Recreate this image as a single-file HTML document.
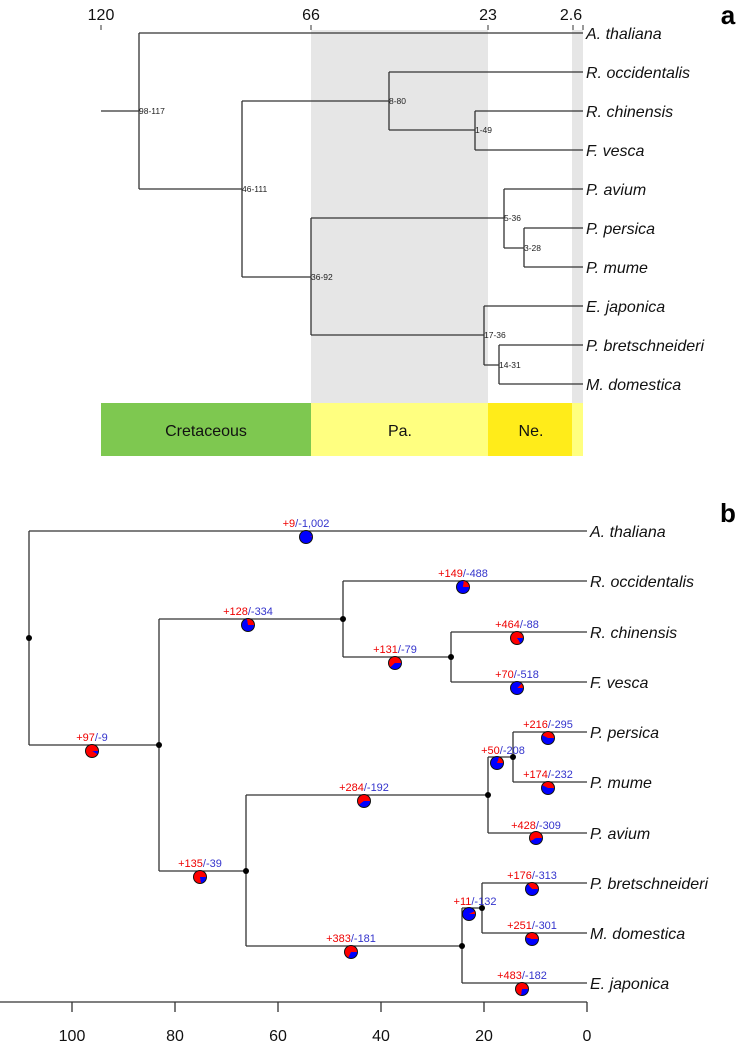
<!DOCTYPE html>
<html><head><meta charset="utf-8"><style>
body{margin:0;background:#fff;}
#w{position:relative;width:749px;height:1041px;overflow:hidden;font-family:"Liberation Sans",sans-serif;}
svg{position:absolute;left:0;top:0;}
.p{position:absolute;width:12px;height:12px;border:1px solid #111;border-radius:50%;}
</style></head><body><div id="w">
<svg width="749" height="1041" viewBox="0 0 749 1041">
<g font-family="Liberation Sans, sans-serif">
<!-- panel a -->
<rect x="311" y="30" width="177" height="373" fill="#e6e6e6"/>
<rect x="572" y="30" width="11" height="373" fill="#e6e6e6"/>
<rect x="101" y="403" width="210" height="53" fill="#7ec850"/>
<rect x="311" y="403" width="177" height="53" fill="#ffff80"/>
<rect x="488" y="403" width="84" height="53" fill="#ffec1a"/>
<rect x="572" y="403" width="11" height="53" fill="#ffff80"/>
<g font-size="16" text-anchor="middle" fill="#111">
<text x="206" y="436">Cretaceous</text><text x="400" y="436">Pa.</text><text x="531" y="436">Ne.</text>
<text x="101" y="20">120</text><text x="311" y="20">66</text><text x="488" y="20">23</text><text x="571" y="20">2.6</text>
</g>
<g stroke="#333" stroke-width="1"><line x1="101" y1="25" x2="101" y2="30"/><line x1="311" y1="25" x2="311" y2="30"/><line x1="488" y1="25" x2="488" y2="30"/><line x1="573" y1="25" x2="573" y2="30"/><line x1="583" y1="25" x2="583" y2="30"/></g>
<text x="728" y="24" font-size="26" font-weight="bold" text-anchor="middle">a</text>
<g stroke="#333" stroke-width="1.3" fill="none">
<path d="M101 111H139M139 33V189M139 33H583M139 189H242M242 101V277M242 101H389M389 72V130M389 72H583M389 130H475M475 111V150M475 111H583M475 150H583M242 277H311M311 218V335M311 218H504M504 189V248M504 189H583M504 248H524M524 228V267M524 228H583M524 267H583M311 335H484M484 306V365M484 306H583M484 365H499M499 345V384M499 345H583M499 384H583"/>
</g>
<g font-size="8.5" fill="#222">
<text x="139" y="114">98-117</text><text x="389" y="104">8-80</text><text x="475" y="133">1-49</text><text x="242" y="192">46-111</text><text x="311" y="280">36-92</text><text x="504" y="221">5-36</text><text x="524" y="251">3-28</text><text x="484" y="338">17-36</text><text x="499" y="368">14-31</text>
</g>
<g font-size="16" font-style="italic" fill="#111">
<text x="586" y="39">A. thaliana</text><text x="586" y="78">R. occidentalis</text><text x="586" y="117">R. chinensis</text><text x="586" y="156">F. vesca</text><text x="586" y="195">P. avium</text><text x="586" y="234">P. persica</text><text x="586" y="273">P. mume</text><text x="586" y="312">E. japonica</text><text x="586" y="351">P. bretschneideri</text><text x="586" y="390">M. domestica</text>
</g>
<!-- panel b -->
<text x="728" y="522" font-size="26" font-weight="bold" text-anchor="middle">b</text>
<g stroke="#333" stroke-width="1.3" fill="none">
<path d="M29 531V745M29 531H587M29 745H159M159 619V871M159 619H343M343 581V657M343 581H587M343 657H451M451 632V682M451 632H587M451 682H587M159 871H246M246 795V946M246 795H488M488 757V833M488 757H513M513 732V782M513 732H587M513 782H587M488 833H587M246 946H462M462 908V983M462 908H482M482 883V933M482 883H587M482 933H587M462 983H587"/>
<path d="M0 1002H587M72 1002V1012M175 1002V1012M278 1002V1012M381 1002V1012M484 1002V1012M587 1002V1012"/>
</g>
<g fill="#000"><circle cx="29" cy="638" r="3"/><circle cx="159" cy="745" r="3"/><circle cx="343" cy="619" r="3"/><circle cx="451" cy="657" r="3"/><circle cx="246" cy="871" r="3"/><circle cx="488" cy="795" r="3"/><circle cx="513" cy="757" r="3"/><circle cx="462" cy="946" r="3"/><circle cx="482" cy="908" r="3"/></g>
<g font-size="16" text-anchor="middle" fill="#111"><text x="72" y="1041">100</text><text x="175" y="1041">80</text><text x="278" y="1041">60</text><text x="381" y="1041">40</text><text x="484" y="1041">20</text><text x="587" y="1041">0</text></g>
<g font-size="16" font-style="italic" fill="#111">
<text x="590" y="537">A. thaliana</text><text x="590" y="587">R. occidentalis</text><text x="590" y="638">R. chinensis</text><text x="590" y="688">F. vesca</text><text x="590" y="738">P. persica</text><text x="590" y="788">P. mume</text><text x="590" y="839">P. avium</text><text x="590" y="889">P. bretschneideri</text><text x="590" y="939">M. domestica</text><text x="590" y="989">E. japonica</text>
</g>
<g font-size="11" text-anchor="middle">
<text x="306" y="527"><tspan fill="#e00">+9</tspan><tspan fill="#33c">/-1,002</tspan></text>
<text x="92" y="741"><tspan fill="#e00">+97</tspan><tspan fill="#33c">/-9</tspan></text>
<text x="248" y="615"><tspan fill="#e00">+128</tspan><tspan fill="#33c">/-334</tspan></text>
<text x="463" y="577"><tspan fill="#e00">+149</tspan><tspan fill="#33c">/-488</tspan></text>
<text x="395" y="653"><tspan fill="#e00">+131</tspan><tspan fill="#33c">/-79</tspan></text>
<text x="517" y="628"><tspan fill="#e00">+464</tspan><tspan fill="#33c">/-88</tspan></text>
<text x="517" y="678"><tspan fill="#e00">+70</tspan><tspan fill="#33c">/-518</tspan></text>
<text x="200" y="867"><tspan fill="#e00">+135</tspan><tspan fill="#33c">/-39</tspan></text>
<text x="364" y="791"><tspan fill="#e00">+284</tspan><tspan fill="#33c">/-192</tspan></text>
<text x="503" y="754"><tspan fill="#e00">+50</tspan><tspan fill="#33c">/-208</tspan></text>
<text x="548" y="728"><tspan fill="#e00">+216</tspan><tspan fill="#33c">/-295</tspan></text>
<text x="548" y="778"><tspan fill="#e00">+174</tspan><tspan fill="#33c">/-232</tspan></text>
<text x="536" y="829"><tspan fill="#e00">+428</tspan><tspan fill="#33c">/-309</tspan></text>
<text x="351" y="942"><tspan fill="#e00">+383</tspan><tspan fill="#33c">/-181</tspan></text>
<text x="475" y="905"><tspan fill="#e00">+11</tspan><tspan fill="#33c">/-132</tspan></text>
<text x="532" y="879"><tspan fill="#e00">+176</tspan><tspan fill="#33c">/-313</tspan></text>
<text x="532" y="929"><tspan fill="#e00">+251</tspan><tspan fill="#33c">/-301</tspan></text>
<text x="522" y="979"><tspan fill="#e00">+483</tspan><tspan fill="#33c">/-182</tspan></text>
</g>
</g>
</svg>
<div class="p" style="left:299px;top:530px;background:conic-gradient(from 90deg,#00f 0 99.1%,#f00 0)"></div>
<div class="p" style="left:85px;top:744px;background:conic-gradient(from 90deg,#00f 0 8.5%,#f00 0)"></div>
<div class="p" style="left:241px;top:618px;background:conic-gradient(from 90deg,#00f 0 72.3%,#f00 0)"></div>
<div class="p" style="left:456px;top:580px;background:conic-gradient(from 90deg,#00f 0 76.6%,#f00 0)"></div>
<div class="p" style="left:388px;top:656px;background:conic-gradient(from 90deg,#00f 0 37.6%,#f00 0)"></div>
<div class="p" style="left:510px;top:631px;background:conic-gradient(from 90deg,#00f 0 15.9%,#f00 0)"></div>
<div class="p" style="left:510px;top:681px;background:conic-gradient(from 90deg,#00f 0 88.1%,#f00 0)"></div>
<div class="p" style="left:193px;top:870px;background:conic-gradient(from 90deg,#00f 0 22.4%,#f00 0)"></div>
<div class="p" style="left:357px;top:794px;background:conic-gradient(from 90deg,#00f 0 40.3%,#f00 0)"></div>
<div class="p" style="left:490px;top:756px;background:conic-gradient(from 90deg,#00f 0 80.6%,#f00 0)"></div>
<div class="p" style="left:541px;top:731px;background:conic-gradient(from 90deg,#00f 0 57.7%,#f00 0)"></div>
<div class="p" style="left:541px;top:781px;background:conic-gradient(from 90deg,#00f 0 57.1%,#f00 0)"></div>
<div class="p" style="left:529px;top:831px;background:conic-gradient(from 90deg,#00f 0 41.9%,#f00 0)"></div>
<div class="p" style="left:344px;top:945px;background:conic-gradient(from 90deg,#00f 0 32.1%,#f00 0)"></div>
<div class="p" style="left:462px;top:907px;background:conic-gradient(from 90deg,#00f 0 92.3%,#f00 0)"></div>
<div class="p" style="left:525px;top:882px;background:conic-gradient(from 90deg,#00f 0 64%,#f00 0)"></div>
<div class="p" style="left:525px;top:932px;background:conic-gradient(from 90deg,#00f 0 54.5%,#f00 0)"></div>
<div class="p" style="left:515px;top:982px;background:conic-gradient(from 90deg,#00f 0 27.4%,#f00 0)"></div>
</div></body></html>
